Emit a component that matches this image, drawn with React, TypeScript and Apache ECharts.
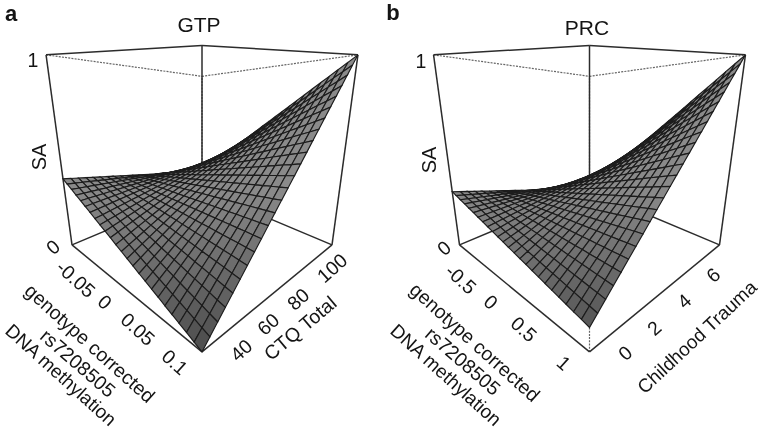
import React, { useEffect, useRef } from "react";
import * as echarts from "echarts";

// Height (SA) of the surface at the two ends of each of the 25 mesh rows.
const gtpHeightAtLowCTQ = [0.39,0.374,0.358,0.341,0.325,0.309,0.293,0.276,0.26,0.244,0.228,0.211,0.195,0.179,0.163,0.146,0.13,0.114,0.098,0.081,0.065,0.049,0.033,0.016,0];
const gtpHeightAtHighCTQ = [0.145,0.181,0.216,0.252,0.288,0.323,0.359,0.394,0.43,0.466,0.501,0.537,0.573,0.608,0.644,0.679,0.715,0.751,0.786,0.822,0.858,0.893,0.929,0.964,1];
const prcHeightAtLowTrauma = [0.318,0.31,0.301,0.293,0.284,0.276,0.267,0.259,0.25,0.242,0.233,0.225,0.216,0.208,0.199,0.191,0.182,0.174,0.165,0.157,0.148,0.14,0.131,0.123,0.114];
const prcHeightAtHighTrauma = [0.01,0.051,0.093,0.134,0.175,0.216,0.258,0.299,0.34,0.381,0.423,0.464,0.505,0.546,0.588,0.629,0.67,0.711,0.753,0.794,0.835,0.876,0.918,0.959,1];

const gtpMethTicks = ["-0.05", "0", "0.05", "0.1"];
const gtpCtqTicks = ["40", "60", "80", "100"];
const prcMethTicks = ["-0.5", "0", "0.5", "1"];
const prcTraumaTicks = ["0", "2", "4", "6"];

// Layout (label centres, view constants) kept apart from the values.
const gtpMethPos = [[76, 279], [105, 302], [138, 329], [175, 362]];
const gtpCtqPos = [[241, 350], [268, 324], [298, 299], [332, 268]];
const prcMethPos = [[461, 279], [491, 302], [524, 329], [564, 363]];
const prcTraumaPos = [[625, 353], [654, 328], [684, 301], [713, 275]];

const VIEW = { f: 378, d: 3.77, sin: 0.342, cos: 0.94, y0: 158.5 };
const FONT = "'Liberation Sans', Arial, sans-serif";
const INK = "#141414";

function project(cx: number, s: number, t: number, z: number): number[] {
  const p = 2 * s - 1, q = 2 * t - 1, c = 2 * z - 1;
  const h = (p + q) / Math.SQRT2, w = (p - q) / Math.SQRT2;
  const Y = c * VIEW.cos - w * VIEW.sin;
  const D = VIEW.d - w * VIEW.cos - c * VIEW.sin;
  return [cx + (VIEW.f * h) / D, VIEW.y0 - (VIEW.f * Y) / D];
}

// corners of the box as s, t, z
const CORNERS = [
  [0, 0, 0], [1, 0, 0], [1, 1, 0], [0, 1, 0],
  [0, 0, 1], [1, 0, 1], [1, 1, 1], [0, 1, 1],
];
const BACK_EDGES = [[0, 3], [2, 3], [3, 7], [4, 7], [6, 7], [0, 4], [2, 6], [0, 1], [1, 2]];
const FRONT_EDGES = [[4, 5], [5, 6], [1, 5]];

function boxSeries(cx: number, edges: number[][], dashed: boolean, z: number) {
  return {
    type: "custom", coordinateSystem: "cartesian2d", clip: false, silent: true, z,
    data: edges,
    encode: { x: 0, y: 1 },
    renderItem: (_p: any, api: any) => {
      const a = CORNERS[api.value(0)], b = CORNERS[api.value(1)];
      const pa = api.coord(project(cx, a[0], a[1], a[2]));
      const pb = api.coord(project(cx, b[0], b[1], b[2]));
      return {
        type: "line",
        shape: { x1: pa[0], y1: pa[1], x2: pb[0], y2: pb[1] },
        style: dashed
          ? { stroke: "#666666", lineWidth: 1.2, lineDash: [2, 1.2], fill: null }
          : { stroke: "#2c2c2c", lineWidth: 1.5, fill: null },
      };
    },
  };
}

function surfaceSeries(cx: number, low: number[], high: number[], z: number) {
  const n = low.length;
  const cells: number[][] = [];
  for (let k = -(n - 2); k <= n - 2; k++) {
    for (let i = 0; i < n - 1; i++) {
      const j = i - k;
      if (j >= 0 && j < n - 1) cells.push([i, j]);
    }
  }
  const node = (i: number, j: number) => {
    const t = j / (n - 1);
    return project(cx, i / (n - 1), t, low[i] + (high[i] - low[i]) * t);
  };
  return {
    type: "custom", coordinateSystem: "cartesian2d", clip: false, silent: true, z,
    data: cells,
    encode: { x: 0, y: 1 },
    renderItem: (_p: any, api: any) => {
      const i = api.value(0), j = api.value(1);
      const raw = [node(i, j), node(i + 1, j), node(i + 1, j + 1), node(i, j + 1)];
      const midY = (raw[0][1] + raw[1][1] + raw[2][1] + raw[3][1]) / 4;
      const k = Math.max(0, Math.min(1, (350 - midY) / 160));
      const g = Math.round(76 + 62 * k);
      return {
        type: "polygon",
        shape: { points: raw.map((r) => api.coord(r)) },
        style: { fill: `rgb(${g},${g},${g})`, stroke: "#1c1c1c", lineWidth: 1.15 },
      };
    },
  };
}

function label(text: string, x: number, y: number, deg = 0, size = 19.5, weight = "normal") {
  return {
    type: "text", x, y, rotation: (deg * Math.PI) / 180, z: 50,
    style: { text, align: "center", verticalAlign: "middle", fill: INK, fontFamily: FONT, fontSize: size, fontWeight: weight },
  };
}

function tickLabels(ticks: string[], pos: number[][], deg: number) {
  return ticks.map((t, i) => label(t, pos[i][0], pos[i][1], deg));
}

export default function App() {
  const ref = useRef<HTMLDivElement>(null);
  useEffect(() => {
    document.body.style.margin = "0";
    const chart = echarts.init(ref.current!, undefined, { renderer: "svg", width: 762, height: 432 });
    chart.setOption({
      animation: false,
      backgroundColor: "#ffffff",
      grid: { left: 0, right: 0, top: 0, bottom: 0 },
      xAxis: { type: "value", min: 0, max: 762, show: false },
      yAxis: { type: "value", min: 0, max: 432, inverse: true, show: false },
      series: [
        boxSeries(202, FRONT_EDGES, true, 1),
        boxSeries(202, BACK_EDGES, false, 2),
        surfaceSeries(202, gtpHeightAtLowCTQ, gtpHeightAtHighCTQ, 3),
        boxSeries(589.5, FRONT_EDGES, true, 1),
        boxSeries(589.5, BACK_EDGES, false, 2),
        surfaceSeries(589.5, prcHeightAtLowTrauma, prcHeightAtHighTrauma, 3),
      ],
      graphic: [
        label("a", 11, 13, 0, 22, "bold"),
        label("b", 393, 12, 0, 22, "bold"),
        label("GTP", 199, 24, 0, 21),
        label("PRC", 587, 27, 0, 21),
        label("1", 33, 60),
        label("0", 53, 247, 40),
        label("1", 421, 61),
        label("0", 444, 248, 40),
        label("SA", 39, 157, 90, 20),
        label("SA", 429, 160, 90, 20),
        ...tickLabels(gtpMethTicks, gtpMethPos, -42),
        ...tickLabels(gtpCtqTicks, gtpCtqPos, 42),
        ...tickLabels(prcMethTicks, prcMethPos, -42),
        ...tickLabels(prcTraumaTicks, prcTraumaPos, 42),
        label("CTQ Total", 300, 328, 40),
        label("genotype corrected", 90, 343, -42),
        label("rs7208505", 78, 363, -41),
        label("DNA methylation", 61, 375, -42, 19),
        label("Childhood Trauma", 697, 337, 43, 19),
        label("genotype corrected", 475, 342, -42),
        label("rs7208505", 463, 361, -41),
        label("DNA methylation", 446, 375, -42, 19),
      ],
    });
    return () => chart.dispose();
  }, []);
  return <div ref={ref} style={{ width: 762, height: 432, filter: "blur(0.45px)" }} />;
}
